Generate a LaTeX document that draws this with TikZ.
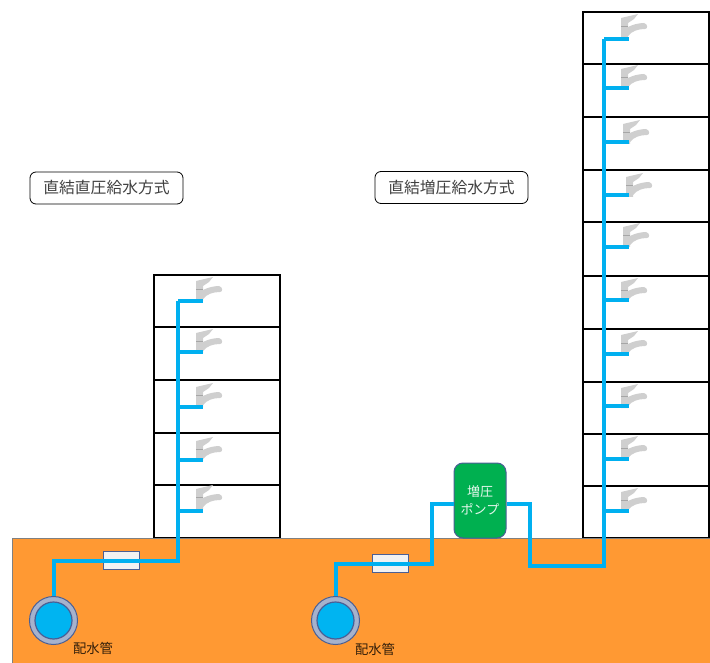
\documentclass[tikz,border=0pt]{standalone}
\usepackage{fontspec}
\setmainfont{Noto Sans CJK JP}
\usetikzlibrary{positioning}
\definecolor{pipeblue}{HTML}{00B0F0}
\definecolor{groundorange}{HTML}{FF9933}
\definecolor{ringblue}{HTML}{4A5F95}
\definecolor{ringgray}{HTML}{A6B2CC}
\definecolor{pumpgreen}{HTML}{00B050}
\definecolor{tapgray}{HTML}{CFCFCF}
\definecolor{labelgray}{HTML}{404040}
\tikzset{
  room/.style={draw=black,line width=2pt},
  pipe/.style={draw=pipeblue,line width=4pt,line join=miter},
  titlebox/.style={draw=black,line width=0.8pt,rounded corners=6pt,minimum width=153pt,minimum height=32pt,font=\fontsize{15.8}{18}\selectfont,text=labelgray,inner sep=0pt},
  meter/.style={draw=ringblue,line width=1pt,fill=gray!10,minimum width=36pt,minimum height=18pt,inner sep=0pt},
  mainpipe/.style={circle,draw=ringblue,line width=1pt,fill=ringgray,minimum size=48pt,inner sep=0pt},
  maincore/.style={circle,draw=ringblue,line width=1.2pt,fill=pipeblue!95!cyan,minimum size=37pt,inner sep=0pt},
  pipelabel/.style={font=\fontsize{13.3}{15}\selectfont,text=black!80!groundorange,inner sep=0pt},
  tap/.pic={
    \fill[tapgray] (1,5) -- (18,1) -- (14,6) -- (8,10) -- (8,25) -- (1,25) -- cycle;
    \fill[tapgray] (8,14) .. controls (12,12) and (18,10) .. (24,10) .. controls (28,11) and (28,16) .. (25,16) .. controls (18,16) and (12,18) .. (8,23) -- cycle;
    \draw[gray!70,line width=0.4pt] (1,13) -- (8,13);
  }
}
\begin{document}
\begin{tikzpicture}[x=1pt,y=-1pt]
\useasboundingbox (0,0) rectangle (710,663);
% buildings
\foreach \top/\bot in {275/327,327/380,380/433,433/485,485/538}
  \draw[room] (154,\top) rectangle (280,\bot);
\foreach \top/\bot in {12/64,64/117,117/170,170/222,222/276,276/329,329/382,382/434,434/486,486/538}
  \draw[room] (583,\top) rectangle (709,\bot);
% ground
\fill[groundorange,draw=gray,line width=1pt] (12,538) rectangle (711,664);
% taps
\foreach \y in {276,328,382,436,484}
  \pic at (195,\y) {tap};
\foreach \x/\y in {620/13,620/64,622/119,625/172,622/222,620/277,620/330,620/383,620/435,620/487}
  \pic at (\x,\y) {tap};
% titles
\node[titlebox] (titleA) at (106.5,188) {直結直圧給水方式};
\node[titlebox] (titleB) at (451.5,187.5) {直結増圧給水方式};
% left system
\node[mainpipe] (mainA) at (53.5,620.5) {};
\node[maincore] (coreA) at (53.5,620.5) {};
\node[pipelabel] (labelA) at (93,648) {配水管};
\node[meter] (meterA) at (121,560) {};
\coordinate (bendA) at (178,561);
\coordinate (topA) at (178,301);
\draw[pipe] (mainA.north) |- (bendA) -- (topA);
\foreach \y in {301,352,407,460,511}{
  \coordinate (riser) at (178,\y);
  \coordinate (tapend) at (203,\y);
  \draw[pipe] (riser) -- (tapend);
}
% right system
\node[mainpipe] (mainB) at (335.5,620.5) {};
\node[maincore] (coreB) at (335.5,620.5) {};
\node[pipelabel] (labelB) at (375,649) {配水管};
\node[meter] (meterB) at (390,563.5) {};
\node[draw=ringblue,line width=1pt,fill=pumpgreen,rounded corners=9pt,minimum width=52pt,minimum height=75pt,inner sep=0pt,align=center,text=white!90!pumpgreen,font=\fontsize{13}{18}\selectfont] (pump) at (480,500.5) {増圧\\ポンプ};
\coordinate (bendB) at (432,564);
\coordinate (inB) at (432,504);
\coordinate (outB) at (530,504);
\coordinate (lowB) at (530,566);
\coordinate (lowC) at (604,566);
\coordinate (topB) at (604,39);
\draw[pipe] (mainB.north) |- (bendB) -- (inB) -- (inB -| pump.west);
\draw[pipe] (outB -| pump.east) -- (outB) -- (lowB) -- (lowC) -- (topB);
\foreach \y in {39,88,142,195,247,300,354,406,459,511}{
  \coordinate (riser) at (604,\y);
  \coordinate (tapend) at (629,\y);
  \draw[pipe] (riser) -- (tapend);
}
\end{tikzpicture}
\end{document}
